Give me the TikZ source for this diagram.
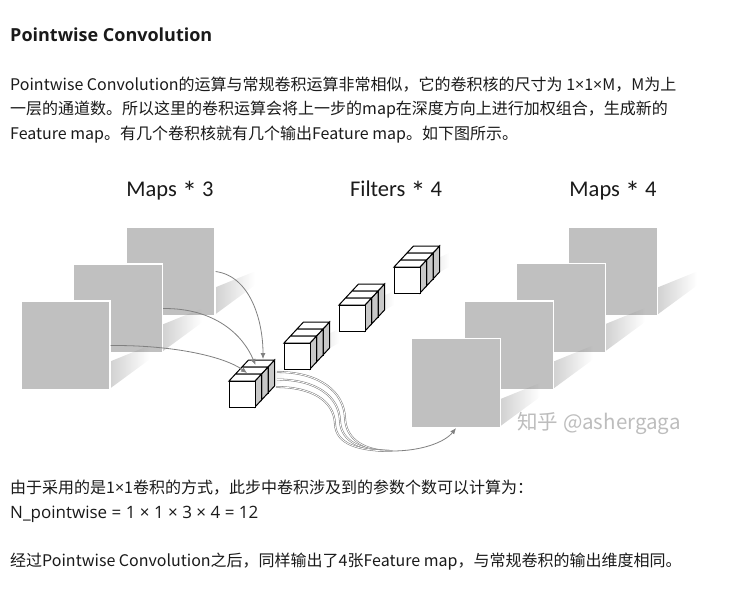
\documentclass[tikz,border=0pt]{standalone}
\usepackage{fontspec}
\setmainfont{Noto Sans CJK SC}
\newfontfamily\labelfont{Carlito}
\newfontfamily\titlefont{Open Sans}
\newfontfamily\latinfont{Open Sans}
\usetikzlibrary{arrows.meta,fadings}

\definecolor{mapgray}{HTML}{C0C0C0}
\definecolor{sidegray}{HTML}{C8C8C8}
\definecolor{arrowgray}{HTML}{808080}
\definecolor{markgray}{HTML}{BDBDBD}
\definecolor{textdark}{HTML}{1A1A1A}

\newcommand{\tms}{{\latinfont\fontsize{16}{24}\selectfont ×}}
\newcommand{\lowstar}{\raisebox{-0.3em}{\fontsize{30}{30}\selectfont *}}

% feature map with its soft shadow: name, centre x, centre y
\newcommand{\featmap}[3]{%
  \fill[black, opacity=0.18, path fading=east]
    (#2+44.5,#3+43) -- (#2+44.5,#3+16) -- (#2+84,#3) -- (#2+84,#3+14) -- cycle;
  \node[fmap] (#1) at (#2,#3) {};
}

% 1x1x3 filter: name, front face top-left x, y
\newcommand{\filterstack}[3]{%
  \fill[black, opacity=0.13, path fading=east]
    (#2+33,#3+12) -- (#2+33,#3-4) -- (#2+55,#3-14) -- (#2+55,#3) -- cycle;
  \foreach \k in {2,1,0}{
    \pgfmathsetmacro{\ox}{#2+6.5*\k}
    \pgfmathsetmacro{\oy}{#3-7*\k}
    \filldraw[cubeline, fill=sidegray] (\ox+26,\oy) -- ++(6.5,-7) -- ++(0,26) -- ++(-6.5,7) -- cycle;
    \filldraw[cubeline, fill=white] (\ox,\oy) -- ++(6.5,-7) -- ++(26,0) -- ++(-6.5,7) -- cycle;
    \filldraw[cubeline, fill=white] (\ox,\oy) rectangle ++(26,26);
  }
  \node[inner sep=0pt, minimum size=26pt, anchor=north west] (#1) at (#2,#3) {};
}

\begin{document}
\begin{tikzpicture}[
    x=1pt, y=-1pt,
    fmap/.style={
        fill=mapgray,
        draw=white,
        line width=1.2pt,
        minimum size=89pt,
        inner sep=0pt
    },
    cubeline/.style={draw=black, line width=1pt, line join=miter},
    body/.style={anchor=base west, inner sep=0pt, text=textdark,
        font=\fontsize{16}{24}\selectfont},
    lbl/.style={anchor=base, inner sep=0pt, text=textdark,
        font=\labelfont\fontsize{22.5}{26}\selectfont},
    arrow/.style={-{Latex[length=6pt,width=5pt]}, draw=arrowgray, line width=0.8pt},
    bundle/.style={draw=arrowgray, double=white, double distance=0.8pt, line width=0.55pt}
]
\fill[white] (0,0) rectangle (730,598);
\useasboundingbox (0,0) rectangle (730,598);

% text above the figure
\node[anchor=base west, inner sep=0pt, text=textdark,
      font=\titlefont\bfseries\fontsize{18}{20}\selectfont] (title) at (10,41) {Pointwise Convolution};
\node[body] (p1a) at (10,90) {Pointwise Convolution的运算与常规卷积运算非常相似，它的卷积核的尺寸为 1\tms1\tms M，M为上};
\node[body] (p1b) at (10,114.5) {一层的通道数。所以这里的卷积运算会将上一步的map在深度方向上进行加权组合，生成新的};
\node[body] (p1c) at (10,139) {Feature map。有几个卷积核就有几个输出Feature map。如下图所示。};

% column labels
\node[lbl] (lblin) at (170,196) {Maps \lowstar\ 3};
\node[lbl] (lblfilt) at (396,196) {Filters \lowstar\ 4};
\node[lbl] (lblout) at (613,196) {Maps \lowstar\ 4};

% input maps
\featmap{in3}{170.5}{271.5}
\featmap{in2}{118}{308.5}
\featmap{in1}{65.5}{345.5}

% output maps
\featmap{out4}{613}{271.5}
\featmap{out3}{561}{308}
\featmap{out2}{509}{345.5}
\featmap{out1}{456}{383}

% filters
\filterstack{f4}{394}{267}
\filterstack{f3}{339}{305}
\filterstack{f2}{284}{343}
\filterstack{f1}{229}{381}

% inputs into the first filter
\coordinate (t3) at (263,359);
\coordinate (t2) at (255.5,365);
\coordinate (t1) at (247,373);
\draw[arrow] (in3.east) .. controls (250,276) and (263,320) .. (t3);
\draw[arrow] (in2.east) .. controls (215,308) and (243,335) .. (t2);
\draw[arrow] (in1.east) .. controls (175,345) and (225,357) .. (t1);

% weighted sum out to the first output map
\coordinate (o1) at (277,372);
\coordinate (o2) at (277,379.5);
\coordinate (o3) at (276,387);
\coordinate (j) at (392,451);
\draw[bundle] (o1) .. controls (320,372) and (344,392) .. (345,418) .. controls (346,440) and (365,451) .. (j);
\draw[bundle] (o2) .. controls (316,379.5) and (339,396) .. (340,421) .. controls (341,442) and (362,451) .. (j);
\draw[bundle] (o3) .. controls (311,387) and (334,400) .. (335,424) .. controls (336,444) and (358,451) .. (j);
\draw[arrow] (j) .. controls (422,451) and (445,442) .. (out1.south);

% watermark
\node[anchor=base, inner sep=0pt, text=markgray,
      font=\fontsize{20.5}{22}\selectfont] (mark) at (599,429) {知乎 @ashergaga};

% text below the figure
\node[body] (p2a) at (10,493) {由于采用的是1\tms1卷积的方式，此步中卷积涉及到的参数个数可以计算为：};
\node[body, font=\latinfont\fontsize{17}{24}\selectfont] (p2b) at (10,518) {N\_pointwise = 1 × 1 × 3 × 4 = 12};
\node[body] (p3) at (10,566) {经过Pointwise Convolution之后，同样输出了4张Feature map，与常规卷积的输出维度相同。};

\end{tikzpicture}
\end{document}
